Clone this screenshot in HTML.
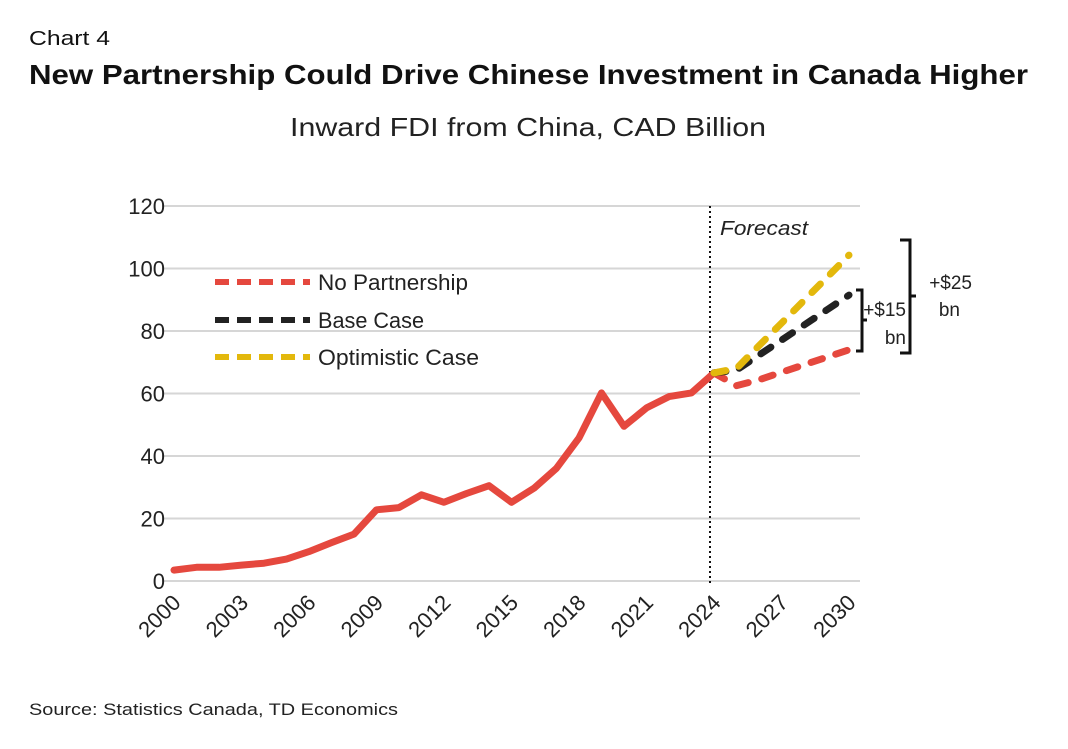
<!DOCTYPE html>
<html><head><meta charset="utf-8"><style>
body{margin:0;background:#fff;width:1068px;height:744px;overflow:hidden;font-family:"Liberation Sans",sans-serif;color:#111}
</style></head><body>
<svg width="1068" height="744" xmlns="http://www.w3.org/2000/svg" font-family="Liberation Sans, sans-serif">
<text x="29" y="45" font-size="20" fill="#111" textLength="81" lengthAdjust="spacingAndGlyphs">Chart 4</text>
<text x="29" y="84" font-size="28" font-weight="bold" fill="#111" textLength="999" lengthAdjust="spacingAndGlyphs">New Partnership Could Drive Chinese Investment in Canada Higher</text>
<text x="290" y="136" font-size="26" fill="#222" textLength="476" lengthAdjust="spacingAndGlyphs">Inward FDI from China, CAD Billion</text>
<g id="grid"></g><g id="marks"></g>
<text x="720" y="235" font-size="20" font-style="italic" fill="#222" textLength="88" lengthAdjust="spacingAndGlyphs">Forecast</text>
<g font-size="22" fill="#222">
<line x1="215" y1="282" x2="310" y2="282" stroke="#e5483e" stroke-width="6" stroke-dasharray="14,8"/><text x="318" y="290" textLength="150" lengthAdjust="spacingAndGlyphs">No Partnership</text>
<line x1="215" y1="320" x2="310" y2="320" stroke="#222" stroke-width="6" stroke-dasharray="14,8"/><text x="318" y="328" textLength="106" lengthAdjust="spacingAndGlyphs">Base Case</text>
<line x1="215" y1="357" x2="310" y2="357" stroke="#e3b80c" stroke-width="6" stroke-dasharray="14,8"/><text x="318" y="365" textLength="161" lengthAdjust="spacingAndGlyphs">Optimistic Case</text>
</g>
<g fill="none" stroke="#111" stroke-width="3">
<path d="M856,290 H862 V351 H856 M862,320 H867"/></g>
<g fill="none" stroke="#111" stroke-width="3">
<path d="M900,240 H910 V353 H900 M910,296 H916"/></g>
<text font-size="19" fill="#222" text-anchor="end"><tspan x="906" y="316">+$15</tspan><tspan x="906" y="344">bn</tspan></text>
<text font-size="19" fill="#222" text-anchor="end"><tspan x="972" y="289">+$25</tspan><tspan x="960" y="316">bn</tspan></text>
<text x="29" y="715" font-size="17" fill="#222" textLength="369" lengthAdjust="spacingAndGlyphs">Source: Statistics Canada, TD Economics</text>
</svg>
<script>
const years=[];for(let y=2000;y<=2030;y++)years.push(y);
const histYears=[2000,2001,2002,2003,2004,2005,2006,2007,2008,2009,2010,2011,2012,2013,2014,2015,2016,2017,2018,2019,2020,2021,2022,2023,2024];
const histValues=[3.5,4.4,4.4,5.1,5.7,7,9.4,12.3,15,22.8,23.5,27.6,25.2,28,30.5,25.2,29.7,36.1,45.8,60.2,49.5,55.4,59,60.2,66.6];
const fcYears=[2024,2025,2026,2027,2028,2029,2030];
const noPartner=[66.6,62.5,64.4,66.8,69.2,71.6,74];
const baseCase=[66.6,67.5,72.3,77.1,81.9,86.7,91.5];
const optimistic=[66.6,68,75.3,82.5,89.8,97,104.3];
const yTicks=[0,20,40,60,80,100,120];
const xTickLabels=[2000,2003,2006,2009,2012,2015,2018,2021,2024,2027,2030];
const NS='http://www.w3.org/2000/svg';
const x=v=>174+(v-2000)*22.5;
const y=v=>581-v*3.125;
function mk(tag,attrs,parent,txt){const e=document.createElementNS(NS,tag);for(const k in attrs)e.setAttribute(k,attrs[k]);if(txt!=null)e.textContent=txt;parent.appendChild(e);return e;}
const grid=document.getElementById('grid'),marks=document.getElementById('marks');
yTicks.forEach(t=>{
 const l=mk('line',{x1:162,x2:860,y1:y(t),y2:y(t),stroke:'#d6d6d6','stroke-width':2},grid);
 
 
 const tx=mk('text',{x:165,y:y(t)+8,'font-size':22,'text-anchor':'end',fill:'#222'},grid,t);
 
 
});
xTickLabels.forEach(t=>{
 const tx=mk('text',{transform:`translate(${x(t)+8},${604}) rotate(-45)`,'font-size':22,'text-anchor':'end',fill:'#222'},grid,t);
 
 
});
const vl=mk('line',{x1:710,x2:710,y1:206,y2:585,stroke:'#111','stroke-width':2,'stroke-dasharray':'2,3'},grid);


function line(xs,vs,color,dash,name){
 const d=xs.map((v,i)=>(i?'L':'M')+x(v).toFixed(1)+','+y(vs[i]).toFixed(1)).join(' ');
 const p=mk('path',{d:d,fill:'none',stroke:color,'stroke-width':7,'stroke-linejoin':'round','stroke-linecap':'round'},marks);
 if(dash)p.setAttribute('stroke-dasharray',dash);
 
 
}
line(histYears,histValues,'#e5483e',null,'historical-fdi-line');
line(fcYears,noPartner,'#e5483e','12,14','no-partnership-line');
line(fcYears,baseCase,'#222','12,14','base-case-line');
line(fcYears,optimistic,'#e3b80c','12,14','optimistic-case-line');
</script>
</body></html>
